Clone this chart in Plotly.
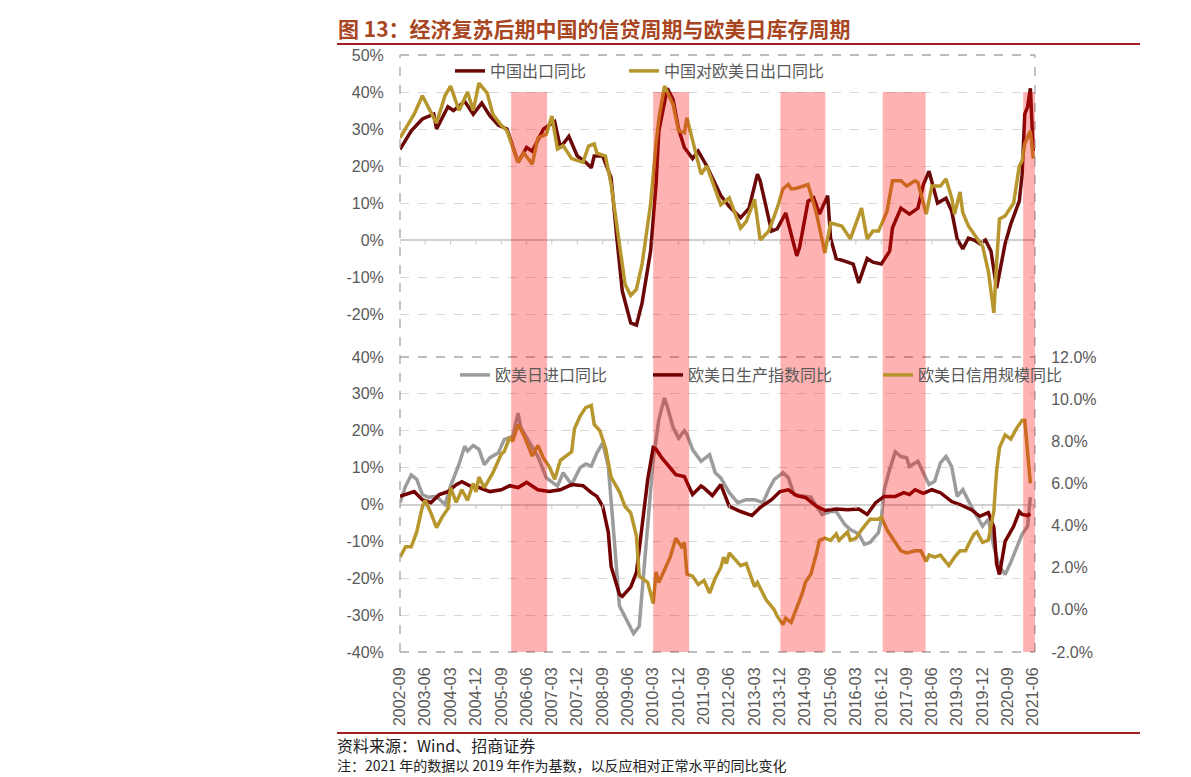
import plotly.graph_objects as go
import pandas as pd

# ---------------- data ----------------
# Upper panel: China exports yoy (left axis, %)
CN_EXP_DATES = ["2002-09", "2003-01", "2003-05", "2003-09", "2003-10", "2004-02", "2004-04", "2004-08",
                "2004-11", "2005-02", "2005-05", "2005-08", "2005-11", "2006-03", "2006-06", "2006-08",
                "2006-12", "2007-04", "2007-06", "2007-09", "2007-12", "2008-03", "2008-05", "2008-06",
                "2008-09", "2008-12", "2009-02", "2009-04", "2009-07", "2009-09", "2009-11", "2010-02",
                "2010-04", "2010-05", "2010-08", "2010-10", "2010-12", "2011-02", "2011-05", "2011-07",
                "2011-10", "2012-03", "2012-06", "2012-10", "2013-01", "2013-04", "2013-05", "2013-09",
                "2013-11", "2014-02", "2014-06", "2014-07", "2014-10", "2014-12", "2015-02", "2015-05",
                "2015-06", "2015-08", "2015-11", "2016-02", "2016-04", "2016-07", "2016-09", "2016-12",
                "2017-03", "2017-04", "2017-07", "2017-10", "2018-01", "2018-03", "2018-05", "2018-08",
                "2018-11", "2019-01", "2019-03", "2019-05", "2019-07", "2019-09", "2019-11", "2020-01",
                "2020-03", "2020-05", "2020-07", "2020-08", "2020-10", "2021-01", "2021-02", "2021-03",
                "2021-04", "2021-05", "2021-06"]
CN_EXP = [24.5, 29.5, 32.7, 34, 30, 36, 35, 37.5,
          34, 37, 33.5, 31, 30, 21, 25, 24,
          30, 32, 25, 28, 22.7, 21, 19.5, 22.7,
          22.7, 16.8, 0.5, -13.8, -22.4, -23, -17, -3,
          15, 29.5, 41, 38, 30, 25, 22, 24,
          20, 12, 9, 6, 8.6, 17.8, 16, 2.4,
          3, 7.3, -4.3, -2, 10.5, 11.4, 7, 12,
          0.5, -5, -5.7, -6.5, -11.6, -5, -6, -6.5,
          -3, 3.3, 8.6, 7, 8.6, 15, 18.6, 10,
          11.3, 7.8, 0.3, -2.4, 0.5, 0, -1, 0,
          -3, -13, -5, -1, 4.3, 10.5, 17.8, 34,
          36, 41, 24]

# Upper panel: China exports to US/EU/JP yoy (%)
CN_EUJ_DATES = ["2002-09", "2003-02", "2003-05", "2003-07", "2003-10", "2004-01", "2004-03", "2004-06",
                "2004-09", "2004-11", "2005-01", "2005-04", "2005-06", "2005-09", "2005-11", "2006-03",
                "2006-05", "2006-08", "2006-10", "2007-01", "2007-03", "2007-05", "2007-07", "2007-10",
                "2008-02", "2008-04", "2008-06", "2008-07", "2008-10", "2008-12", "2009-03", "2009-05",
                "2009-07", "2009-09", "2009-11", "2010-02", "2010-04", "2010-05", "2010-07", "2010-10",
                "2010-12", "2011-02", "2011-03", "2011-05", "2011-08", "2011-10", "2012-03", "2012-06",
                "2012-10", "2012-12", "2013-03", "2013-05", "2013-08", "2013-11", "2014-01", "2014-03",
                "2014-04", "2014-06", "2014-10", "2015-01", "2015-04", "2015-06", "2015-10", "2016-01",
                "2016-05", "2016-07", "2016-09", "2016-11", "2017-02", "2017-04", "2017-07", "2017-09",
                "2017-12", "2018-01", "2018-04", "2018-06", "2018-09", "2018-11", "2019-01", "2019-02",
                "2019-04", "2019-05", "2019-07", "2019-10", "2019-12", "2020-02", "2020-04", "2020-05",
                "2020-06", "2020-08", "2020-11", "2021-01", "2021-02", "2021-03", "2021-05", "2021-06"]
CN_EUJ = [27.6, 34, 39, 36, 31.6, 39, 41.6, 35,
          40, 35, 42.4, 39.7, 34, 31, 29.5, 21,
          23.5, 20.5, 27.6, 28.6, 33.5, 24.6, 25.5, 22,
          21, 25.4, 26, 23.5, 22.7, 15, -1, -12,
          -15, -13.3, -6.5, 9.7, 26, 32.7, 41.6, 36.7,
          29.5, 29, 33, 27, 17.8, 20, 9.5, 11.4,
          3.2, 5, 11, 0, 2.4, 8.6, 13.8, 15,
          13.8, 14, 15, 7, -3.5, 4.6, 3.8, 0.3,
          8.6, 0.3, 2.4, 2.4, 7.8, 16, 16, 14.6,
          16, 15.5, 7, 14.6, 14.6, 16.5, 11.4, 7,
          13, 7.4, 3.8, 0.5, -1.6, -8.4, -19.7, -6,
          5.7, 6.5, 10, 20, 21.4, 26, 29.5, 22]

# Lower panel: US/EU/JP imports yoy (left axis, %)
IMP_DATES = ["2002-09", "2002-11", "2003-01", "2003-03", "2003-05", "2003-07", "2003-10", "2004-01",
             "2004-03", "2004-06", "2004-08", "2004-09", "2004-11", "2005-01", "2005-03", "2005-05",
             "2005-08", "2005-10", "2006-01", "2006-03", "2006-04", "2006-07", "2006-10", "2007-01",
             "2007-05", "2007-07", "2007-10", "2008-01", "2008-03", "2008-05", "2008-07", "2008-09",
             "2008-11", "2009-01", "2009-03", "2009-06", "2009-08", "2009-10", "2009-11", "2010-01",
             "2010-03", "2010-05", "2010-07", "2010-08", "2010-10", "2010-12", "2011-02", "2011-03",
             "2011-05", "2011-08", "2011-11", "2012-01", "2012-03", "2012-06", "2012-09", "2012-12",
             "2013-03", "2013-06", "2013-08", "2013-10", "2014-01", "2014-03", "2014-05", "2014-08",
             "2014-11", "2015-01", "2015-03", "2015-06", "2015-08", "2015-11", "2016-01", "2016-04",
             "2016-06", "2016-08", "2016-11", "2016-12", "2017-01", "2017-03", "2017-04", "2017-05",
             "2017-07", "2017-09", "2017-10", "2018-01", "2018-03", "2018-05", "2018-07", "2018-09",
             "2018-11", "2019-01", "2019-03", "2019-05", "2019-08", "2019-10", "2019-12", "2020-02",
             "2020-04", "2020-06", "2020-08", "2020-10", "2020-12", "2021-02", "2021-04", "2021-05"]
IMP = [0.5, 5, 8, 6.8, 2.7, 2, 2.2, 0,
       5, 11, 15.8, 14.5, 16, 15, 10.8, 12.7,
       14, 17.6, 18.5, 24.8, 20.8, 17, 13, 7.2,
       5, 8.6, 5.4, 10, 11, 10.4, 14, 16.7,
       10.3, -8.6, -27.5, -32, -35, -33, -23.8, -4,
       12, 23, 28.9, 26.5, 21, 18, 20, 19,
       14.9, 11.7, 13.5, 8.6, 7.2, 3.2, 0.5, 1.3,
       1.3, 0.5, 4, 6.8, 8.6, 7.3, 2.7, 2.3,
       2, -0.5, -2.7, -1.9, -1.9, -5.4, -6.8, -8,
       -10.8, -10.3, -7.6, -4, 4, 9.5, 12, 14.3,
       13, 12.7, 10.3, 11.7, 8.6, 5.4, 6.3, 11.3,
       13, 10.3, 2.2, 4, -0.5, -3.2, -5.9, -4,
       -11.4, -16.8, -19, -15.7, -11.6, -8, -5.9, 2]

# Lower panel: US/EU/JP industrial production yoy (left axis, %)
IP_DATES = ["2002-09", "2003-01", "2003-02", "2003-05", "2003-08", "2003-11", "2004-02", "2004-05",
            "2004-07", "2004-10", "2005-01", "2005-05", "2005-09", "2005-12", "2006-03", "2006-06",
            "2006-10", "2007-02", "2007-06", "2007-10", "2008-02", "2008-05", "2008-07", "2008-09",
            "2008-11", "2008-12", "2009-03", "2009-04", "2009-07", "2009-09", "2009-11", "2010-01",
            "2010-03", "2010-04", "2010-06", "2010-08", "2010-11", "2011-02", "2011-05", "2011-08",
            "2011-09", "2011-12", "2012-03", "2012-06", "2012-10", "2013-02", "2013-05", "2013-09",
            "2013-12", "2014-03", "2014-06", "2014-09", "2015-01", "2015-04", "2015-08", "2015-12",
            "2016-04", "2016-07", "2016-10", "2017-01", "2017-05", "2017-08", "2017-10", "2017-12",
            "2018-03", "2018-06", "2018-09", "2019-01", "2019-04", "2019-08", "2019-11", "2020-02",
            "2020-04", "2020-05", "2020-06", "2020-08", "2020-11", "2021-01", "2021-02", "2021-04",
            "2021-05"]
IP = [2.2, 3.2, 3.5, 1.3, 0.5, 2.7, 3.5, 5.4,
      6.2, 5, 4.6, 3.5, 4, 5.1, 4.6, 6,
      4, 3.5, 4, 5.4, 5.1, 3.2, 2.2, -0.5,
      -7.6, -16.8, -24.3, -24.9, -22.4, -18.4, -5.9, 6.8,
      15.4, 15, 12.7, 10.8, 8.1, 7.6, 2.7, 5,
      4.5, 2.4, 5.4, -0.5, -1.9, -3, -0.8, 1.3,
      3.5, 4, 2.4, 1.9, -0.5, -1.6, -1.2, -1.4,
      -1.2, -2.7, 0.5, 2.2, 2.2, 3.2, 2.7, 4,
      3, 4, 3.2, 0.8, 0, -1.4, -3.2, -2.2,
      -6.2, -16.2, -19, -10, -5.9, -1.9, -2.7, -3,
      -2.5]

# Lower panel: US/EU/JP credit yoy (right axis, %)
CREDIT_DATES = ["2002-09", "2002-11", "2003-01", "2003-03", "2003-05", "2003-06", "2003-08", "2003-10",
                "2003-12", "2004-02", "2004-03", "2004-05", "2004-07", "2004-09", "2004-11", "2004-12",
                "2005-01", "2005-03", "2005-06", "2005-09", "2005-10", "2005-12", "2006-01", "2006-03",
                "2006-05", "2006-07", "2006-08", "2006-10", "2006-12", "2007-02", "2007-04", "2007-06",
                "2007-08", "2007-10", "2007-11", "2008-01", "2008-03", "2008-05", "2008-06", "2008-08",
                "2008-10", "2008-12", "2009-03", "2009-05", "2009-07", "2009-09", "2009-10", "2010-01",
                "2010-03", "2010-04", "2010-05", "2010-08", "2010-09", "2010-11", "2011-01", "2011-02",
                "2011-03", "2011-05", "2011-07", "2011-09", "2011-11", "2012-01", "2012-03", "2012-04",
                "2012-05", "2012-06", "2012-08", "2012-10", "2012-12", "2013-03", "2013-04", "2013-07",
                "2013-10", "2013-11", "2014-01", "2014-02", "2014-04", "2014-06", "2014-08", "2014-09",
                "2014-11", "2015-01", "2015-02", "2015-04", "2015-06", "2015-08", "2015-09", "2015-12",
                "2016-01", "2016-03", "2016-05", "2016-08", "2016-11", "2016-12", "2017-02", "2017-04",
                "2017-07", "2017-09", "2017-12", "2018-02", "2018-04", "2018-05", "2018-07", "2018-09",
                "2018-12", "2019-02", "2019-04", "2019-06", "2019-07", "2019-09", "2019-10", "2019-12",
                "2020-02", "2020-04", "2020-05", "2020-06", "2020-08", "2020-10", "2020-12", "2021-02",
                "2021-03", "2021-05"]
CREDIT = [2.5, 3.0, 3.0, 3.7, 4.9, 5.2, 4.6, 3.9,
          4.4, 4.8, 5.8, 5.1, 5.7, 5.2, 6.0, 5.6,
          6.3, 5.8, 6.5, 7.4, 7.5, 8.2, 8.0, 8.8,
          8.3, 7.6, 7.3, 7.8, 7.2, 6.8, 6.2, 7.1,
          7.3, 7.5, 8.6, 9.2, 9.6, 9.7, 8.8, 8.5,
          7.7, 6.3, 5.6, 4.9, 4.6, 3.5, 1.6, 1.3,
          0.3, 1.8, 1.3, 2.2, 2.5, 3.4, 3.0, 3.2,
          1.7, 1.6, 1.2, 1.4, 0.8, 1.5, 2.0, 2.5,
          2.2, 2.7, 2.4, 2.1, 2.2, 1.1, 1.3, 0.5,
          0.0, -0.3, -0.7, -0.4, -0.6, 0.1, 0.8, 1.3,
          1.7, 2.7, 3.3, 3.4, 3.3, 3.6, 3.3, 3.7,
          3.3, 3.4, 3.8, 4.3, 4.3, 4.4, 3.8, 3.4,
          2.8, 2.7, 2.8, 2.8, 2.3, 2.6, 2.5, 2.6,
          2.1, 2.5, 2.8, 2.8, 3.1, 3.6, 3.7, 3.2,
          3.3, 4.7, 6.6, 7.7, 8.3, 8.1, 8.6, 9.0,
          9.0, 6.0]

# Shaded periods (credit cycle, late recovery)
BAND_START = ["2005-12-16", "2010-03-01", "2013-12-06", "2016-12-16", "2021-02-12"]
BAND_END = ["2007-01-09", "2011-03-25", "2015-04-06", "2018-03-25", "2021-06-20"]
BAND_TOP = 40  # top of the shading, on the upper-left axis (%)

TICK_LABELS = ["2002-09", "2003-06", "2004-03", "2004-12", "2005-09", "2006-06", "2007-03",
               "2007-12", "2008-09", "2009-06", "2010-03", "2010-12", "2011-09", "2012-06",
               "2013-03", "2013-12", "2014-09", "2015-06", "2016-03", "2016-12", "2017-09",
               "2018-06", "2019-03", "2019-12", "2020-09", "2021-06"]

NAMES = ["中国出口同比", "中国对欧美日出口同比", "欧美日进口同比", "欧美日生产指数同比", "欧美日信用规模同比"]

# ---------------- layout geometry ----------------
# the page body has an 8px margin, so the figure is drawn 8px right/down of the window corner
PAGE_OFF = 8
W, H = 1191 - PAGE_OFF, 777 - PAGE_OFF
PLOT_L, PLOT_R, PLOT_T, PLOT_B = 400, 1035, 55, 652   # screen pixels
ML, MT = PLOT_L - PAGE_OFF, PLOT_T - PAGE_OFF
MR, MB = W - (PLOT_R - PAGE_OFF), H - (PLOT_B - PAGE_OFF)
PW, PH = PLOT_R - PLOT_L, PLOT_B - PLOT_T
X_RANGE = ["2002-09-01", "2021-06-20"]
TOP_RANGE_L = [-30, 50]
TOP_RANGE_R = [-40, 50]
BOT_RANGE_L = [-40, 40]
BOT_RANGE_R = [-2, 12]
TOP_DOM = [(PLOT_B - 351) / PH, 1.0]
BOT_DOM = [0.0, (PLOT_B - 357) / PH]


def px_x(px):
    return (px - PLOT_L) / PW


def px_y(py):
    return (PLOT_B - py) / PH


C_RED = "#6B0808"
C_GOLD = "#B8962E"
C_GRAY = "#9C9C9C"
C_IP = "#720000"
TICK_FONT = dict(family="Liberation Sans, Arial", size=16, color="#595959")
CJK = "Noto Sans CJK SC"
LEG_FONT = dict(family=CJK, size=16, color="#595959")


def d(lst):
    return pd.to_datetime([s if len(s) > 7 else s + "-01" for s in lst])


fig = go.Figure()

fig.add_trace(go.Scatter(x=d(CN_EXP_DATES), y=CN_EXP, name=NAMES[0], mode="lines",
                         line=dict(color=C_RED, width=3.5), xaxis="x", yaxis="y", legend="legend"))
fig.add_trace(go.Scatter(x=d(CN_EUJ_DATES), y=CN_EUJ, name=NAMES[1], mode="lines",
                         line=dict(color=C_GOLD, width=3.5), xaxis="x", yaxis="y", legend="legend2"))
fig.add_trace(go.Scatter(x=d(IMP_DATES), y=IMP, name=NAMES[2], mode="lines",
                         line=dict(color=C_GRAY, width=3.5), xaxis="x2", yaxis="y3", legend="legend3"))
fig.add_trace(go.Scatter(x=d(IP_DATES), y=IP, name=NAMES[3], mode="lines",
                         line=dict(color=C_IP, width=3.5), xaxis="x2", yaxis="y3", legend="legend4"))
fig.add_trace(go.Scatter(x=d(CREDIT_DATES), y=CREDIT, name=NAMES[4], mode="lines",
                         line=dict(color=C_GOLD, width=3.5), xaxis="x2", yaxis="y4", legend="legend5"))

# small tick marks along the zero lines (category axis crossing at 0)
tick_dates = d(TICK_LABELS)
for xa, ya, ln in (("x", "y", 1.2), ("x2", "y3", 1.2)):
    tx, ty = [], []
    for t in tick_dates:
        tx += [t, t, None]
        ty += [0, -ln, None]
    fig.add_trace(go.Scatter(x=tx, y=ty, mode="lines", line=dict(color="#C8C8C8", width=1),
                             xaxis=xa, yaxis=ya, showlegend=False, hoverinfo="skip"))

shapes = []
FRAME = dict(color="#A6A6A6", width=1.3, dash="dash")
shapes.append(dict(type="line", xref="x domain", yref="y domain", x0=0, x1=1, y0=1, y1=1, line=FRAME, layer="above"))
shapes.append(dict(type="line", xref="x2 domain", yref="y3 domain", x0=0, x1=1, y0=1, y1=1, line=FRAME, layer="above"))
shapes.append(dict(type="line", xref="x2 domain", yref="y3 domain", x0=0, x1=1, y0=0, y1=0, line=FRAME, layer="above"))
shapes.append(dict(type="line", xref="x domain", yref="paper", x0=0, x1=0, y0=0, y1=1, line=FRAME, layer="above"))
shapes.append(dict(type="line", xref="x domain", yref="paper", x0=1, x1=1, y0=0, y1=1, line=FRAME, layer="above"))

band_top_paper = TOP_DOM[0] + (BAND_TOP - TOP_RANGE_L[0]) / (TOP_RANGE_L[1] - TOP_RANGE_L[0]) * (TOP_DOM[1] - TOP_DOM[0])
for s, e in zip(BAND_START, BAND_END):
    shapes.append(dict(type="rect", xref="x", yref="paper", x0=s, x1=e, y0=0, y1=band_top_paper,
                       fillcolor="rgba(255,0,0,0.3)", line=dict(width=0), layer="above"))

# report decoration lines
shapes.append(dict(type="line", xref="paper", yref="paper", x0=px_x(85), x1=px_x(1140), y0=px_y(2), y1=px_y(2),
                   line=dict(color="#B0603A", width=1)))
shapes.append(dict(type="line", xref="paper", yref="paper", x0=px_x(337), x1=px_x(1140), y0=px_y(44), y1=px_y(44),
                   line=dict(color="#A31F1F", width=2)))
shapes.append(dict(type="line", xref="paper", yref="paper", x0=px_x(337), x1=px_x(1140), y0=px_y(733), y1=px_y(733),
                   line=dict(color="#A31F1F", width=2)))

annotations = [
    dict(text="<b>图 13：经济复苏后期中国的信贷周期与欧美日库存周期</b>", xref="paper", yref="paper",
         x=px_x(336), y=px_y(28), xanchor="left", yanchor="middle", showarrow=False,
         font=dict(family=CJK, size=21, color="#A8461F")),
    dict(text="资料来源：Wind、招商证券", xref="paper", yref="paper", x=px_x(336), y=px_y(745),
         xanchor="left", yanchor="middle", showarrow=False, borderpad=0,
         font=dict(family=CJK, size=16, color="#222222")),
    dict(text="注：2021 年的数据以 2019 年作为基数，以反应相对正常水平的同比变化", xref="paper", yref="paper",
         x=px_x(336), y=px_y(765), xanchor="left", yanchor="middle", showarrow=False, borderpad=0,
         font=dict(family=CJK, size=14, color="#222222")),
]

LEG_PX = [(456, 71), (630, 71), (461, 375), (654, 375), (884, 375)]
LEG_OFF = 6
legends = {}
for i, (lx, ly) in enumerate(LEG_PX):
    key = "legend" if i == 0 else f"legend{i + 1}"
    legends[key] = dict(x=px_x(lx - LEG_OFF), y=px_y(ly), xanchor="left", yanchor="middle",
                        orientation="h", bgcolor="rgba(0,0,0,0)", borderwidth=0, font=LEG_FONT,
                        itemwidth=30)


def pct(vals, fmt="{:d}%"):
    return [fmt.format(v) for v in vals]


top_l = list(range(-20, 51, 10))
top_r = list(range(-30, 51, 10))
bot_l = list(range(-40, 41, 10))
bot_r = list(range(-2, 13, 2))
GRID = dict(showgrid=True, gridcolor="#D9D9D9", gridwidth=1, griddash="dash")
YCOMMON = dict(ticks="outside", ticklen=12, tickcolor="rgba(0,0,0,0)", tickfont=TICK_FONT, showline=False)

fig.update_layout(
    width=W, height=H, paper_bgcolor="white", plot_bgcolor="white",
    margin=dict(l=ML, r=MR, t=MT, b=MB), hovermode=False,
    xaxis=dict(domain=[0, 1], anchor="y", type="date", range=X_RANGE, showticklabels=False,
               showgrid=False, zeroline=False, ticks="", showline=False),
    xaxis2=dict(domain=[0, 1], anchor="y3", type="date", range=X_RANGE, tickvals=tick_dates,
                ticktext=TICK_LABELS, tickangle=-90, ticks="outside", ticklen=8,
                tickcolor="rgba(0,0,0,0)", tickfont=TICK_FONT, showgrid=False, zeroline=False, showline=False),
    yaxis=dict(domain=TOP_DOM, anchor="x", range=TOP_RANGE_L, tickvals=top_l, ticktext=pct(top_l),
               zeroline=True, zerolinecolor="#D0D0D0", zerolinewidth=1.5, **GRID, **YCOMMON),
    yaxis2=dict(overlaying="y", side="right", anchor="x", range=TOP_RANGE_R, tickvals=top_r,
                ticktext=pct(top_r), showgrid=False, zeroline=False, **YCOMMON),
    yaxis3=dict(domain=BOT_DOM, anchor="x2", range=BOT_RANGE_L, tickvals=bot_l, ticktext=pct(bot_l),
                zeroline=True, zerolinecolor="#D0D0D0", zerolinewidth=1.5, **GRID, **YCOMMON),
    yaxis4=dict(overlaying="y3", side="right", anchor="x2", range=BOT_RANGE_R, tickvals=bot_r,
                ticktext=pct(bot_r, "{:.1f}%"), showgrid=False, zeroline=False, **YCOMMON),
    shapes=shapes, annotations=annotations, **legends,
)

fig.write_html("out.html")
